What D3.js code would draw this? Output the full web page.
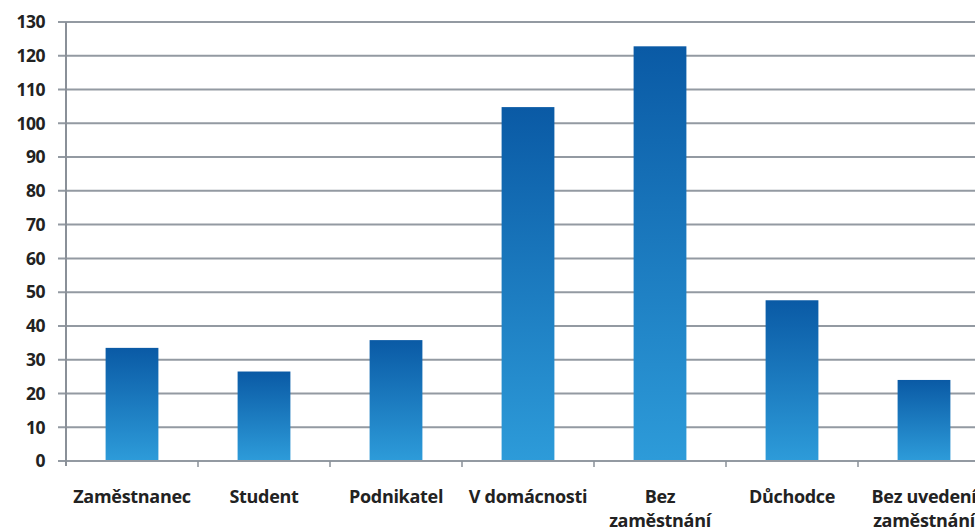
<!DOCTYPE html>
<html><head><meta charset="utf-8">
<script src="https://cdn.jsdelivr.net/npm/d3@7"></script>
<style>
html,body{margin:0;padding:0;background:#fff;overflow:hidden}
text{font-family:"Open Sans",sans-serif;font-weight:700;fill:#222}
</style></head>
<body><svg id="c" width="975" height="531"></svg>
<script>
const categories = ["Zaměstnanec","Student","Podnikatel","V domácnosti","Bez zaměstnání","Důchodce","Bez uvedení zaměstnání"];
const values = [33.5, 26.5, 35.8, 104.8, 122.8, 47.6, 24];
const yTicks = [0,10,20,30,40,50,60,70,80,90,100,110,120,130];
const labelLines = [["Zaměstnanec"],["Student"],["Podnikatel"],["V domácnosti"],["Bez","zaměstnání"],["Důchodce"],["Bez uvedení","zaměstnání"]];

const svg = d3.select("#c");
const x0 = 66, y0 = 461, yTop = 22;
const x = d3.scaleBand().domain(categories).range([x0, x0 + 7*132]).paddingInner(0.6).paddingOuter(0.3);
const y = d3.scaleLinear().domain([0,130]).range([y0, yTop]);

const defs = svg.append("defs");
const g = defs.append("linearGradient").attr("id","bg").attr("x1",0).attr("y1",0).attr("x2",0).attr("y2",1);
g.append("stop").attr("offset","0%").attr("stop-color","#0a5aa5");
g.append("stop").attr("offset","100%").attr("stop-color","#2d9bd9");

// gridlines
svg.append("g").selectAll("line").data(yTicks).join("line")
  .attr("x1",58).attr("x2",975).attr("y1",d=>y(d)).attr("y2",d=>y(d))
  .attr("stroke","#939aa2").attr("stroke-width",2);

// y axis line
svg.append("line").attr("x1",x0).attr("x2",x0).attr("y1",yTop).attr("y2",y0+5)
  .attr("stroke","#8a9098").attr("stroke-width",2);

// y labels
svg.append("g").selectAll("text").data(yTicks).join("text")
  .attr("x",45).attr("y",d=>y(d)).attr("dy","0.36em").attr("text-anchor","end")
  .style("font-size","17.5px").style("letter-spacing","-0.5px").text(d=>d);

// x ticks
const step = x.step();
svg.append("g").selectAll("line").data(d3.range(1,7)).join("line")
  .attr("x1",d=>x0+d*step).attr("x2",d=>x0+d*step).attr("y1",y0).attr("y2",y0+6)
  .attr("stroke","#8a9098").attr("stroke-width",1.5);

// bars
svg.append("g").selectAll("rect").data(values).join("rect")
  .attr("x",(d,i)=>x(categories[i])).attr("width",x.bandwidth())
  .attr("y",d=>y(d)).attr("height",d=>y0-1-y(d)).attr("fill","url(#bg)");

// x labels
const lg = svg.append("g").selectAll("text").data(labelLines).join("text")
  .attr("text-anchor","middle").style("font-size","18px").style("letter-spacing","-0.3px")
  .attr("transform",(d,i)=>`translate(${x(categories[i])+x.bandwidth()/2},0)`);
lg.selectAll("tspan").data(d=>d).join("tspan")
  .attr("x",0).attr("y",(d,j)=>503+j*24).text(d=>d);
</script></body></html>
